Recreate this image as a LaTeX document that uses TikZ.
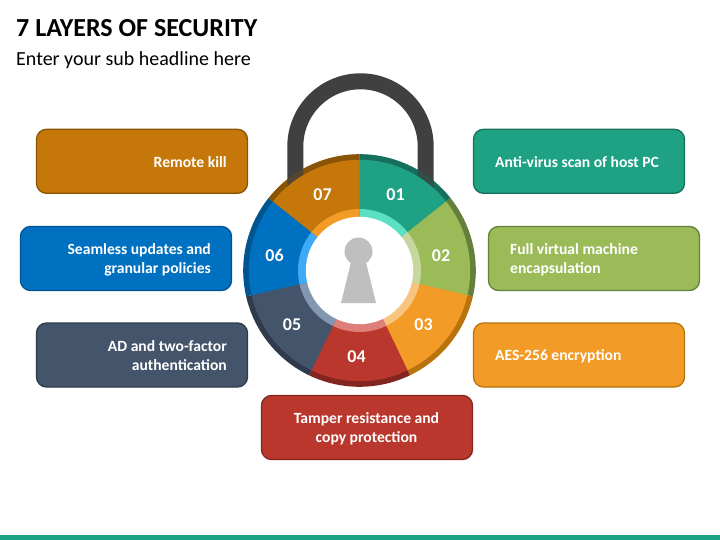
\documentclass[tikz,border=0pt]{standalone}
\usepackage{fontspec}
\setmainfont{Carlito}
\definecolor{cA}{HTML}{1FA184}\definecolor{dA}{HTML}{14705C}\definecolor{lA}{HTML}{5CE0C2}
\definecolor{cB}{HTML}{9BBB59}\definecolor{dB}{HTML}{64803A}\definecolor{lB}{HTML}{C6D7A0}
\definecolor{cC}{HTML}{F29B26}\definecolor{dC}{HTML}{B9730C}\definecolor{lC}{HTML}{F7C57F}
\definecolor{cD}{HTML}{BA372D}\definecolor{dD}{HTML}{83261F}\definecolor{lD}{HTML}{DE7F78}
\definecolor{cE}{HTML}{44546A}\definecolor{dE}{HTML}{2F3B4C}\definecolor{lE}{HTML}{8497B0}
\definecolor{cF}{HTML}{0070C0}\definecolor{dF}{HTML}{005490}\definecolor{lF}{HTML}{3FA9F5}
\definecolor{cG}{HTML}{C5770A}\definecolor{dG}{HTML}{8A5407}\definecolor{lG}{HTML}{F29B26}
\definecolor{shackle}{HTML}{404040}
\definecolor{keyhole}{HTML}{BFBFBF}
\tikzset{
  infobox/.style={draw, line width=1.3pt, rounded corners=10pt, minimum width=211pt, minimum height=64pt, inner sep=0pt},
  infotext/.style={text=white, font=\fontsize{15.6}{19}\selectfont\bfseries, inner sep=0pt},
  numtext/.style={text=white, font=\fontsize{18}{18}\selectfont\bfseries, inner sep=0pt},
}
\begin{document}
\begin{tikzpicture}[x=1pt,y=-1pt]
\useasboundingbox (0,0) rectangle (720,540);
\fill[white] (0,0) rectangle (720,540);
\fill[cA] (0,535) rectangle (720,540);
\node[anchor=base west, inner sep=0pt, font=\fontsize{26}{26}\selectfont\bfseries] (title) at (16,36.5) {7 LAYERS OF SECURITY};
\node[anchor=base west, inner sep=0pt, font=\fontsize{20}{20}\selectfont] (sub) at (16,65.5) {Enter your sub headline here};
% outer dark ring
\foreach \a/\b/\c in {90/38.57/dA,38.57/-12.86/dB,-12.86/-64.29/dC,-64.29/-115.71/dD,-115.71/-167.14/dE,-167.14/-218.57/dF,-218.57/-270/dG}{
  \fill[\c] (359.5,270.5) -- ++({cos(\a)*116.3},{-sin(\a)*116.3}) arc[start angle=-\a, end angle=-\b, radius=116.3] -- cycle;
}
% shackle, lying over the ring and under the pie
\draw[shackle, line width=16pt] (295.3,195) -- (295.3,146.5) arc[start angle=180, end angle=0, radius=65.2, y radius=-65.2] -- (425.7,195);
\foreach \a/\b/\c in {38.57/90/dA,90/141.43/dG}{
  \fill[\c, opacity=.3] (359.5,270.5) -- ++({cos(\a)*116.3},{-sin(\a)*116.3}) arc[start angle=-\a, end angle=-\b, radius=116.3] -- cycle;
}
% coloured pie
\foreach \a/\b/\c in {90/38.57/cA,38.57/-12.86/cB,-12.86/-64.29/cC,-64.29/-115.71/cD,-115.71/-167.14/cE,-167.14/-218.57/cF,-218.57/-270/cG}{
  \fill[\c] (359.5,270.5) -- ++({cos(\a)*110.7},{-sin(\a)*110.7}) arc[start angle=-\a, end angle=-\b, radius=110.7] -- cycle;
}
% light inner ring
\foreach \a/\b/\c in {90/38.57/lA,38.57/-12.86/lB,-12.86/-64.29/lC,-64.29/-115.71/lD,-115.71/-167.14/lE,-167.14/-218.57/lF,-218.57/-270/lG}{
  \fill[\c] (359.5,270.5) -- ++({cos(\a)*61.5},{-sin(\a)*61.5}) arc[start angle=-\a, end angle=-\b, radius=61.5] -- cycle;
}
\fill[white] (359.5,270.5) circle[radius=53.7];
% keyhole
\fill[keyhole] (358.5,251.5) circle[radius=14];
\fill[keyhole] (352,258) -- (365,258) -- (376,303) -- (341,303) -- cycle;
% numbers
\node[numtext] (n1) at (395.5,194.5) {01};
\node[numtext] (n2) at (441,255.5) {02};
\node[numtext] (n3) at (423.5,324.5) {03};
\node[numtext] (n4) at (356.5,356.5) {04};
\node[numtext] (n5) at (292,324.5) {05};
\node[numtext] (n6) at (274.5,255.5) {06};
\node[numtext] (n7) at (322.5,194.5) {07};
% boxes
\node[infobox, draw=dG, fill=cG] (b7) at (142,161.3) {};
\node[infobox, draw=dF, fill=cF] (b6) at (126,258.5) {};
\node[infobox, draw=dE, fill=cE] (b5) at (142,355) {};
\node[infobox, draw=dD, fill=cD] (b4) at (367,427.5) {};
\node[infobox, draw=dA, fill=cA] (b1) at (579,161.3) {};
\node[infobox, draw=dB, fill=cB] (b2) at (594,258.5) {};
\node[infobox, draw=dC, fill=cC] (b3) at (579,355) {};
\node[infotext, anchor=east, align=right] (t7) at (227,162) {Remote kill};
\node[infotext, anchor=east, align=right] (t6) at (211,259.5) {Seamless updates and\\granular policies};
\node[infotext, anchor=east, align=right] (t5) at (227,356) {AD and two-factor\\authentication};
\node[infotext, align=center] (t4) at (366.5,428.5) {Tamper resistance and\\copy protection};
\node[infotext, anchor=west, align=left] (t1) at (495,162) {Anti-virus scan of host PC};
\node[infotext, anchor=west, align=left] (t2) at (510,259.5) {Full virtual machine\\encapsulation};
\node[infotext, anchor=west, align=left] (t3) at (495,356) {AES-256 encryption};
\end{tikzpicture}
\end{document}
